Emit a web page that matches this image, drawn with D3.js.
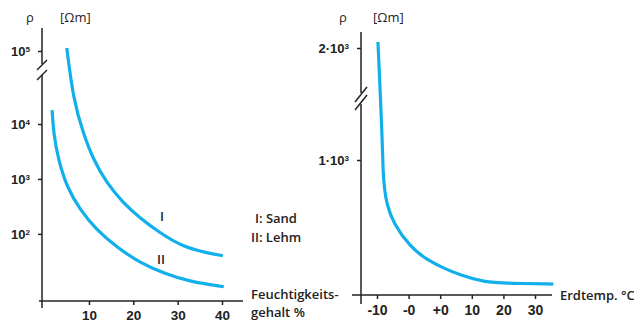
<!DOCTYPE html>
<meta charset="utf-8">
<html>
  <head>
    <script src="https://d3js.org/d3.v7.min.js"></script>
    <style type="text/css">
      body{
        margin: 0;
        font-family: "Open Sans", sans-serif;
        background: #fff;
      }
      .axis line, .axis path{
        stroke: #222;
        stroke-width: 1.5;
        fill: none;
      }
      .tick text{
        font-size: 13px;
        font-weight: 600;
        fill: #222;
      }
      .curve{
        fill: none;
        stroke: #12b0ea;
        stroke-width: 3.2;
      }
      .lbl{
        font-size: 13px;
        font-weight: 600;
        fill: #222;
      }
      .unit{
        font-size: 13px;
        fill: #222;
      }
    </style>
  </head>
  <body>
    <div id="plot"></div>
  </body>

  <script>
    // left chart: resistivity vs moisture content (log scale, broken axis)
    var moistTicks = [10, 20, 30, 40];
    var rhoTicksLeft = [100, 1000, 10000, 100000];
    var rhoExpLeft = ["2", "3", "4", "5"];

    var sandX = [5.0, 6.5, 8.7, 11.0, 14.0, 17.7, 21.5, 26.0, 31.2, 36.6, 40.2];
    var sandY = [110000, 21300, 6860, 2215, 845, 366, 195, 104, 58, 45, 40];
    var lehmX = [1.7, 2.0, 3.1, 5.0, 8.0, 11.7, 16.2, 21.5, 26.7, 32.8, 40.4];
    var lehmY = [15500, 6860, 2215, 716, 273, 118, 58, 29.7, 19.5, 13.4, 10.9];

    // right chart: resistivity vs soil temperature
    var tempTicks = [-20, -10, 0, 10, 20, 30];
    var tempLabels = ["-10", "-0", "+0", "10", "20", "30"];
    var rhoTicksRight = [1000, 2000];
    var rhoLabelsRight = ["1·10", "2·10"];

    var tempX = [-19.7, -18.3, -18.1, -17.6, -17.0, -14.9, -9.5, -4.1, 1.0, 6.3, 13.6, 22.2, 35.8];
    var tempY = [2054, 1179, 904, 780, 680, 533, 356, 259, 200, 148, 96, 86, 81];

    var svg = d3.select("#plot").append("svg")
        .attr("width", 634)
        .attr("height", 324);

    // ---------- left chart ----------
    var xL = d3.scaleLinear().domain([0, 40]).range([44.6, 222]);
    // broken axis: compressed above 10^4
    var yL = d3.scaleLog().domain([6, 10000, 100000]).range([301, 124, 51]);

    var gL = svg.append("g");

    var xAxisL = d3.axisBottom(xL).tickValues(moistTicks).tickSize(4).tickPadding(5);
    var xgL = gL.append("g")
        .attr("class", "axis")
        .attr("transform", "translate(0,301)")
        .call(xAxisL);
    xgL.select(".domain").remove();
    xgL.append("line").attr("x1", 39).attr("x2", 243).attr("y1", 0).attr("y2", 0);
    xgL.selectAll(".tick text").style("font-size", "13.5px");

    var yAxisL = d3.axisLeft(yL).tickValues(rhoTicksLeft).tickSize(4).tickPadding(6).tickFormat("");
    var ygL = gL.append("g")
        .attr("class", "axis")
        .attr("transform", "translate(42,0)")
        .call(yAxisL);
    ygL.select(".domain").remove();
    ygL.append("line").attr("x1", 0).attr("x2", 0).attr("y1", 28).attr("y2", 64);
    ygL.append("line").attr("x1", 0).attr("x2", 0).attr("y1", 75).attr("y2", 308);
    ygL.append("line").attr("x1", -5).attr("x2", 5).attr("y1", 70).attr("y2", 60);
    ygL.append("line").attr("x1", -5).attr("x2", 5).attr("y1", 80).attr("y2", 70);

    ygL.selectAll(".tick").each(function(d, i){
      var t = d3.select(this).append("text")
          .attr("x", -12)
          .attr("dy", "0.35em")
          .attr("text-anchor", "end");
      t.append("tspan").text("10");
      t.append("tspan").attr("dy", "-0.5em").style("font-size", "8px").text(rhoExpLeft[i]);
    });

    var lineL = d3.line()
        .x(function(d){ return xL(d[0]); })
        .y(function(d){ return yL(d[1]); })
        .curve(d3.curveBasis);

    gL.append("path").attr("class", "curve")
        .attr("d", lineL(d3.zip(sandX, sandY)));
    gL.append("path").attr("class", "curve")
        .attr("d", lineL(d3.zip(lehmX, lehmY)));

    gL.append("text").attr("class", "unit").attr("x", 30).attr("y", 22).attr("text-anchor", "middle").text("ρ");
    gL.append("text").attr("class", "unit").attr("x", 60).attr("y", 22).text("[Ωm]");
    gL.append("text").attr("class", "lbl").attr("x", 162).attr("y", 221).attr("text-anchor", "middle").text("I");
    gL.append("text").attr("class", "lbl").attr("x", 161).attr("y", 264).attr("text-anchor", "middle").text("II");
    gL.append("text").attr("class", "lbl").attr("x", 276).attr("y", 223).attr("text-anchor", "middle").text("I: Sand");
    gL.append("text").attr("class", "lbl").attr("x", 276).attr("y", 242).attr("text-anchor", "middle").text("II: Lehm");
    gL.append("text").attr("class", "lbl").attr("x", 251).attr("y", 299).text("Feuchtigkeits-");
    gL.append("text").attr("class", "lbl").attr("x", 251).attr("y", 317).text("gehalt %");

    // ---------- right chart ----------
    var xR = d3.scaleLinear().domain([-20, 30]).range([377, 535]);
    var yR = d3.scaleLinear().domain([0, 1000, 2000]).range([295, 160, 48]);

    var gR = svg.append("g");

    var xAxisR = d3.axisBottom(xR).tickValues(tempTicks).tickSize(4).tickPadding(6)
        .tickFormat(function(d, i){ return tempLabels[i]; });
    var xgR = gR.append("g")
        .attr("class", "axis")
        .attr("transform", "translate(0,295)")
        .call(xAxisR);
    xgR.select(".domain").remove();
    xgR.append("line").attr("x1", 352).attr("x2", 552).attr("y1", 0).attr("y2", 0);
    xgR.selectAll(".tick text").style("font-size", "14px");

    var yAxisR = d3.axisLeft(yR).tickValues(rhoTicksRight).tickSize(4).tickPadding(6).tickFormat("");
    var ygR = gR.append("g")
        .attr("class", "axis")
        .attr("transform", "translate(361,0)")
        .call(yAxisR);
    ygR.select(".domain").remove();
    ygR.append("line").attr("x1", 0).attr("x2", 0).attr("y1", 32).attr("y2", 93);
    ygR.append("line").attr("x1", 0).attr("x2", 0).attr("y1", 104).attr("y2", 304);
    ygR.append("line").attr("x1", -6).attr("x2", 6).attr("y1", 102).attr("y2", 87);
    ygR.append("line").attr("x1", -6).attr("x2", 6).attr("y1", 110).attr("y2", 95);

    ygR.selectAll(".tick").each(function(d, i){
      var t = d3.select(this).append("text")
          .attr("x", -12)
          .attr("dy", "0.35em")
          .attr("text-anchor", "end");
      t.append("tspan").text(rhoLabelsRight[i]);
      t.append("tspan").attr("dy", "-0.5em").style("font-size", "8px").text("3");
    });

    var lineR = d3.line()
        .x(function(d){ return xR(d[0]); })
        .y(function(d){ return yR(d[1]); })
        .curve(d3.curveBasis);

    gR.append("path").attr("class", "curve")
        .attr("d", lineR(d3.zip(tempX, tempY)));

    gR.append("text").attr("class", "unit").attr("x", 343).attr("y", 22).attr("text-anchor", "middle").text("ρ");
    gR.append("text").attr("class", "unit").attr("x", 373).attr("y", 22).text("[Ωm]");
    gR.append("text").attr("class", "lbl").attr("x", 560).attr("y", 300).text("Erdtemp. °C");
  </script>
</html>
